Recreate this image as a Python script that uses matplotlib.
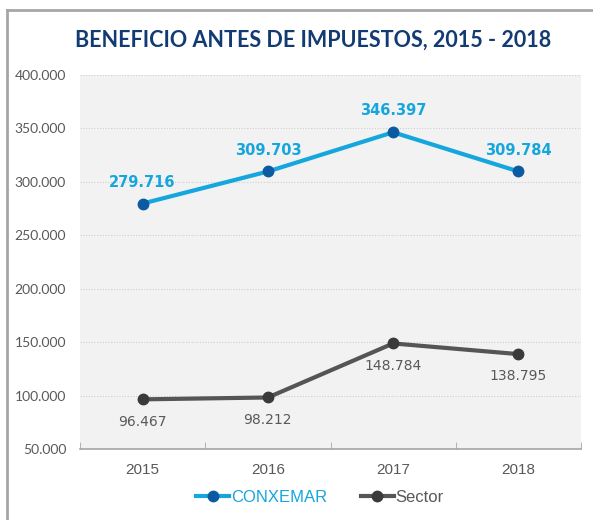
import matplotlib
matplotlib.use("Agg")
import matplotlib.pyplot as plt
from matplotlib.lines import Line2D
from matplotlib.ticker import FuncFormatter, MultipleLocator

years = ["2015", "2016", "2017", "2018"]
conxemar = [279716, 309703, 346397, 309784]
sector = [96467, 98212, 148784, 138795]
conxemar_labels = ["279.716", "309.703", "346.397", "309.784"]
sector_labels = ["96.467", "98.212", "148.784", "138.795"]
title = "BENEFICIO ANTES DE IMPUESTOS, 2015 - 2018"

BLUE = "#16A6DE"
DBLUE = "#0B5AA2"
GRAY = "#595959"
LGRAY = "#555555"
DGRAY = "#3A3A3A"

fig = plt.figure(figsize=(5.93, 5.20), dpi=100)
ax = fig.add_axes([80/593, 71/520, 501/593, 374/520])
ax.set_facecolor("#F2F2F2")

x = list(range(len(years)))
ax.plot(x, conxemar, color=BLUE, lw=3, marker="o", ms=7.5,
        mfc=DBLUE, mec=DBLUE, label="CONXEMAR", zorder=3)
ax.plot(x, sector, color=LGRAY, lw=3, marker="o", ms=7.5,
        mfc=DGRAY, mec=DGRAY, label="Sector", zorder=3)

for xi, v, s in zip(x, conxemar, conxemar_labels):
    ax.annotate(s, (xi, v), xytext=(0, 10), textcoords="offset points",
                ha="center", va="bottom", color=BLUE, fontsize=10.5,
                fontweight="bold", family="DejaVu Sans")
for xi, v, s in zip(x, sector, sector_labels):
    ax.annotate(s, (xi, v), xytext=(0, -11), textcoords="offset points",
                ha="center", va="top", color=GRAY, fontsize=10,
                family="DejaVu Sans")

ax.set_xlim(-0.5, 3.5)
ax.set_ylim(50000, 400000)
ax.yaxis.set_major_locator(MultipleLocator(50000))
ax.yaxis.set_major_formatter(FuncFormatter(lambda v, p: f"{int(v):,}".replace(",", ".")))
ax.grid(axis="y", color="#CFCFCF", linestyle=(0, (1, 1.5)), lw=0.8)
ax.set_axisbelow(True)

ax.set_xticks(x)
ax.set_xticklabels(years)
ax.set_xticks([-0.5, 0.5, 1.5, 2.5, 3.5], minor=True)
ax.tick_params(axis="x", which="major", length=0, pad=10, labelsize=11, labelcolor=GRAY)
ax.tick_params(axis="x", which="minor", direction="in", length=5, color="#A6A6A6")
ax.tick_params(axis="y", length=0, pad=10, labelsize=10, labelcolor=GRAY)
for lbl in ax.get_yticklabels():
    lbl.set_family("Lato")
for lbl in ax.get_xticklabels():
    lbl.set_family("Liberation Sans")

for sp in ["top", "right", "left"]:
    ax.spines[sp].set_visible(False)
ax.spines["bottom"].set_color("#A6A6A6")
ax.spines["bottom"].set_linewidth(1.2)

fig.text(313/593, 1 - 40/520, title, ha="center", va="center",
         fontsize=15.5, fontweight="bold", color="#123A73", family="Lato")

leg = fig.legend(loc="center", bbox_to_anchor=(320/593, 1 - 497/520), ncol=2,
                 frameon=False, handlelength=2.0, handletextpad=0.1,
                 columnspacing=2.0, prop={"family": "Liberation Sans", "size": 12})
for t, c in zip(leg.get_texts(), [BLUE, GRAY]):
    t.set_color(c)

# frame border (left and top)
fig.add_artist(Line2D([7/593, 7/593], [0, 1 - 10/520], transform=fig.transFigure,
                      color="#A6A6A6", lw=2))
fig.add_artist(Line2D([7/593, 1], [1 - 10/520, 1 - 10/520], transform=fig.transFigure,
                      color="#A6A6A6", lw=2))

fig.savefig("out.png", dpi=100, facecolor="white")
